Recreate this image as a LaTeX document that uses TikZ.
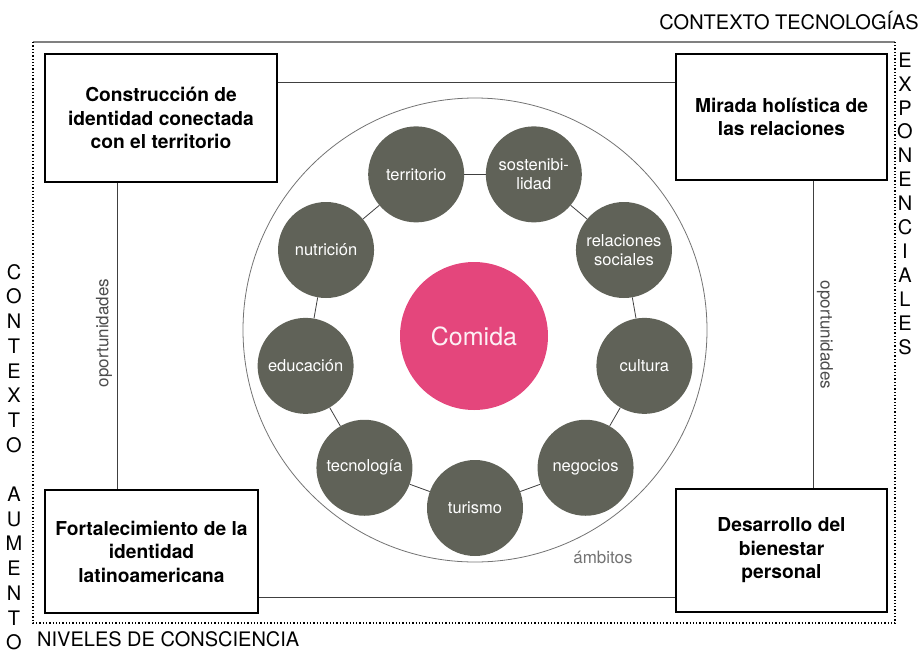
\documentclass[tikz,border=0pt]{standalone}
\usepackage{fontspec}
\setmainfont{TeX Gyre Heros}
\definecolor{gris}{RGB}{96,98,88}
\definecolor{rosa}{RGB}{228,70,124}
\tikzset{
  caja/.style={draw, line width=1.1pt, align=center, font=\fontsize{19.2}{23.5}\selectfont\bfseries},
  ambito/.style={circle, fill=gris, minimum size=96pt, inner sep=0pt, align=center, text=white, font=\fontsize{16.5}{19}\selectfont},
  letra/.style={font=\fontsize{20}{22}\selectfont, inner sep=0pt},
  enlace/.style={draw=black!75, line width=0.8pt}
}
\begin{document}
\begin{tikzpicture}[x=1pt,y=-1pt]
    \useasboundingbox (0,0) rectangle (922,654);

    % Marco
    \draw[gray, line width=1.6pt] (33,42) -- (895,42);
    \draw[dotted, line width=1.3pt] (33,42) -- (33,623) -- (895,623) -- (895,42);
    \path (919,29) node[letra, anchor=base east] (tecno) {CONTEXTO TECNOLOGÍAS};
    \path (37,646) node[letra, anchor=base west] (niveles) {NIVELES DE CONSCIENCIA};
    \foreach \l [count=\i from 0] in {C,O,N,T,E,X,T,O,{},A,U,M,E,N,T,O}
        \path (14,272+24.7*\i) node[letra] (izq\i) {\l};
    \foreach \l [count=\i from 0] in {E,X,P,O,N,E,N,C,I,A,L,E,S}
        \path (905,60+23.9*\i) node[letra] (der\i) {\l};

    % Cajas
    \path (161,118) node[caja, minimum width=232pt, minimum height=128pt] (construccion) {Construcción de\\identidad conectada\\con el territorio};
    \path (781.5,117) node[caja, minimum width=211pt, minimum height=126pt] (mirada) {Mirada holística de\\las relaciones};
    \path (151.5,551.5) node[caja, minimum width=213pt, minimum height=123pt] (fortalecimiento) {Fortalecimiento de la\\identidad\\latinoamericana};
    \path (781.5,550.5) node[caja, minimum width=211pt, minimum height=123pt] (desarrollo) {Desarrollo del\\bienestar\\personal};

    % Enlaces entre cajas
    \draw[enlace] ([yshift=36pt]construccion.east) -- ([yshift=36pt]construccion.east -| mirada.west);
    \draw[enlace] ([yshift=-45.5pt]fortalecimiento.east) -- ([yshift=-45.5pt]fortalecimiento.east -| desarrollo.west);
    \draw[enlace] ([xshift=-44pt]construccion.south) -- ([xshift=-44pt]construccion.south |- fortalecimiento.north);
    \draw[enlace] ([xshift=31.5pt]mirada.south) -- ([xshift=31.5pt]mirada.south |- desarrollo.north);
    \path (104,333) node[rotate=90, text=black!70, font=\fontsize{17}{19}\selectfont] (oporizq) {oportunidades};
    \path (825,335) node[rotate=-90, text=black!70, font=\fontsize{17}{19}\selectfont] (opordef) {oportunidades};

    % Ambitos
    \path (475,330) node[circle, draw=black!55, line width=0.8pt, minimum size=464pt] (ambitos) {};
    \path (603,557) node[text=black!55, font=\fontsize{17}{19}\selectfont] (etiqamb) {ámbitos};
    \path (474,336) node[circle, fill=rosa, minimum size=148pt, text=white!92!rosa, font=\fontsize{25}{28}\selectfont] (comida) {Comida};
    \foreach \nom/\txt [count=\i from 0] in {turismo/turismo, negocios/negocios, cultura/cultura, relaciones/{relaciones\\sociales}, sostenibilidad/{sostenibi-\\lidad}, territorio/territorio, nutricion/nutrición, educacion/educación, tecnologia/tecnología}
        \path (475,336) ++({-90+40*\i}:172pt) node[ambito] (\nom) {\txt};
    \foreach \a/\b in {turismo/negocios, negocios/cultura, cultura/relaciones, relaciones/sostenibilidad, sostenibilidad/territorio, territorio/nutricion, nutricion/educacion, educacion/tecnologia, tecnologia/turismo}
        \draw[enlace] (\a) -- (\b);
\end{tikzpicture}
\end{document}
